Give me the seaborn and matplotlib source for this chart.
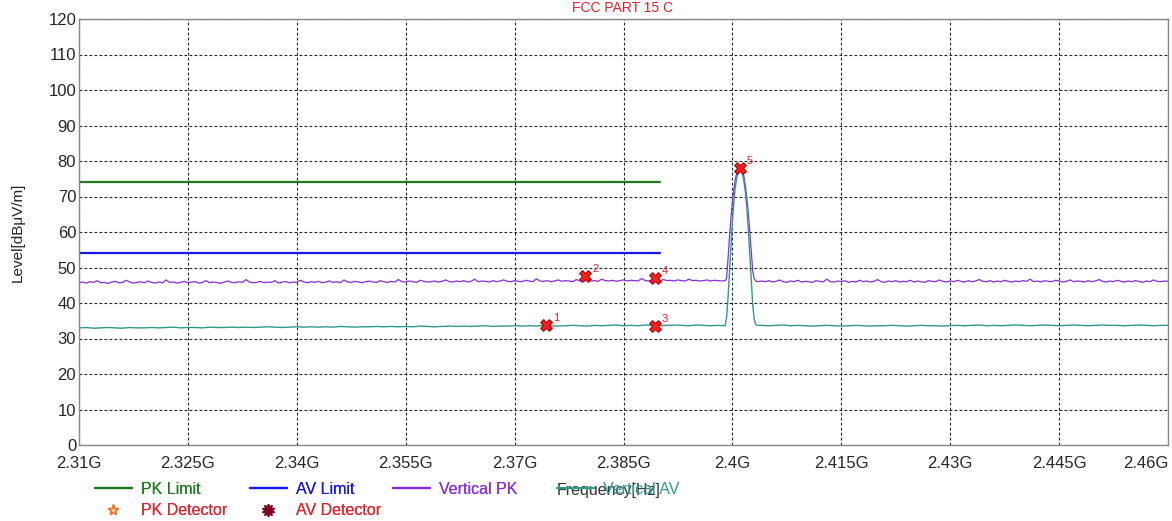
import numpy as np
import pandas as pd
import matplotlib
matplotlib.use("Agg")
import matplotlib.pyplot as plt
from matplotlib.lines import Line2D
import seaborn as sns

# ---------------- data ----------------
x_ticks = [2.31, 2.325, 2.34, 2.355, 2.37, 2.385, 2.40, 2.415, 2.43, 2.445, 2.46]
x_tick_labels = ["2.31G", "2.325G", "2.34G", "2.355G", "2.37G", "2.385G", "2.4G",
                 "2.415G", "2.43G", "2.445G", "2.46G"]
y_ticks = [0, 10, 20, 30, 40, 50, 60, 70, 80, 90, 100, 110, 120]

pk_limit_freq = [2.31, 2.39]
pk_limit_level = [74, 74]
av_limit_freq = [2.31, 2.39]
av_limit_level = [54, 54]

# frequency grids (GHz)
freq_pk_left = np.round(np.arange(2.310, 2.39925, 0.0005), 4)   # 179 points
freq_pk_right = np.round(np.arange(2.404, 2.46025, 0.0005), 4)  # 113 points
freq_av_left = np.round(np.arange(2.310, 2.3995, 0.001), 4)     # 90 points
freq_av_right = np.round(np.arange(2.404, 2.4605, 0.001), 4)    # 57 points
freq_peak = np.round(np.arange(2.3992, 2.40345, 0.0002), 4)     # 22 points

pk_left = [45.7, 45.9, 45.6, 46.0, 45.8, 46.3, 45.7, 45.8, 45.5, 45.9,
           46.1, 45.7, 45.8, 46.4, 45.9, 45.6, 45.8, 46.0, 45.7, 46.2,
           45.8, 45.6, 45.9, 45.7, 46.5, 45.8, 45.9, 45.6, 45.8, 46.1,
           45.7, 45.9, 46.0, 45.6, 45.8, 46.3, 45.7, 45.9, 45.8, 45.5,
           45.9, 46.2, 45.8, 45.7, 46.0, 45.8, 46.6, 45.9, 45.7, 45.8,
           46.1, 45.7, 45.9, 45.8, 46.3, 45.6, 45.9, 46.0, 45.7, 45.9,
           45.8, 46.4, 45.9, 45.7, 46.0, 45.8, 46.1, 45.7, 45.9, 46.2,
           45.8, 46.0, 45.7, 46.5, 45.9, 45.8, 46.1, 45.9, 45.7, 46.0,
           46.2, 45.9, 45.8, 46.3, 46.0, 45.8, 46.1, 45.9, 46.6, 46.0,
           45.9, 46.2, 46.0, 45.8, 46.4, 46.1, 45.9, 46.0, 46.2, 45.9,
           46.1, 46.5, 46.0, 45.9, 46.2, 46.0, 46.3, 45.9, 46.1, 46.7,
           46.0, 46.2, 46.1, 45.9, 46.3, 46.0, 46.2, 46.5, 46.1, 46.0,
           46.3, 46.1, 46.0, 46.4, 46.2, 46.0, 46.8, 46.2, 46.1, 46.3,
           46.0, 46.2, 46.5, 46.1, 46.3, 46.2, 46.0, 46.6, 46.2, 46.1,
           46.4, 46.2, 46.3, 46.1, 46.7, 46.3, 46.2, 46.4, 46.1, 46.3,
           46.5, 46.2, 46.4, 46.3, 46.2, 46.9, 46.3, 46.2, 46.5, 46.3,
           46.2, 46.6, 46.3, 46.4, 46.2, 46.5, 46.3, 46.2, 46.7, 46.3,
           46.4, 46.2, 46.3, 46.5, 46.2, 46.4, 46.3, 46.2, 46.3]
pk_peak = [47.0, 52.5, 58.5, 64.0, 68.5, 72.0, 74.8, 76.7, 77.8, 78.3, 78.1,
           77.2, 75.5, 72.8, 69.3, 65.0, 60.0, 54.5, 49.0, 46.8, 46.3, 46.0]
pk_right = [46.2, 46.0, 46.3, 45.9, 46.1, 46.5, 46.0, 45.8, 46.2, 46.0,
            46.4, 45.9, 46.1, 46.0, 45.8, 46.3, 46.1, 45.9, 46.7, 46.0,
            45.9, 46.2, 46.0, 46.3, 45.8, 46.1, 45.9, 46.4, 46.0, 46.2,
            45.9, 46.1, 46.6, 46.0, 45.8, 46.2, 46.0, 46.3, 45.9, 46.1,
            46.0, 46.4, 45.9, 46.2, 46.0, 45.8, 46.3, 46.1, 46.0, 46.5,
            46.1, 45.9, 46.2, 46.0, 46.4, 46.1, 45.9, 46.3, 46.0, 46.2,
            46.6, 46.1, 46.0, 46.3, 45.9, 46.2, 46.0, 46.4, 46.1, 45.9,
            46.2, 46.0, 46.3, 46.1, 46.7, 46.0, 46.2, 45.9, 46.3, 46.1,
            46.0, 46.4, 46.2, 45.9, 46.1, 46.5, 46.0, 46.2, 46.1, 45.9,
            46.3, 46.0, 46.2, 46.6, 46.1, 45.9, 46.2, 46.0, 46.4, 46.1,
            45.9, 46.2, 46.0, 46.3, 46.1, 45.8, 46.2, 46.0, 46.5, 46.1,
            46.0, 46.2, 46.1]

av_left = [33.0, 33.1, 32.9, 33.0, 33.1, 33.0, 32.9, 33.1, 33.0, 33.0,
           33.1, 33.0, 33.1, 33.2, 33.0, 33.1, 33.1, 33.0, 33.2, 33.1,
           33.1, 33.2, 33.1, 33.2, 33.1, 33.2, 33.3, 33.2, 33.1, 33.2,
           33.3, 33.2, 33.3, 33.2, 33.3, 33.2, 33.4, 33.3, 33.2, 33.3,
           33.3, 33.4, 33.3, 33.4, 33.3, 33.4, 33.3, 33.5, 33.4, 33.3,
           33.4, 33.5, 33.4, 33.5, 33.4, 33.5, 33.6, 33.4, 33.5, 33.5,
           33.6, 33.5, 33.6, 33.5, 33.7, 33.6, 33.5, 33.6, 33.7, 33.6,
           33.5, 33.7, 33.6, 33.7, 33.8, 33.6, 33.7, 33.6, 33.8, 33.7,
           33.6, 33.7, 33.8, 33.7, 33.6, 33.8, 33.7, 33.6, 33.7, 33.6]
av_peak = [36.0, 41.5, 48.5, 56.0, 63.0, 68.5, 72.5, 75.3, 76.8, 77.4, 77.2,
           76.2, 74.2, 71.0, 66.5, 60.5, 53.5, 46.0, 39.5, 35.5, 34.0, 33.7]
av_right = [33.7, 33.6, 33.7, 33.8, 33.6, 33.7, 33.6, 33.5, 33.6, 33.7,
            33.6, 33.5, 33.6, 33.7, 33.6, 33.5, 33.6, 33.6, 33.7, 33.6,
            33.5, 33.6, 33.7, 33.6, 33.6, 33.5, 33.6, 33.7, 33.6, 33.7,
            33.8, 33.6, 33.7, 33.6, 33.7, 33.8, 33.7, 33.6, 33.7, 33.8,
            33.7, 33.6, 33.7, 33.8, 33.7, 33.6, 33.7, 33.8, 33.7, 33.7,
            33.6, 33.7, 33.8, 33.7, 33.6, 33.7, 33.7]

marker_ids = ["1", "2", "3", "4", "5"]
marker_freq = [2.3743, 2.3797, 2.3893, 2.3893, 2.4010]
marker_level = [33.8, 47.6, 33.5, 47.0, 78.0]

# ---------------- style ----------------
sns.set_style("white")
plt.rcParams["font.family"] = ["Liberation Sans", "DejaVu Sans"]

C_PKLIM = "#1f7a1f"
C_AVLIM = "#1515f0"
C_PK = "#8a2be2"
C_AV = "#2f9a8c"
C_RED = "#e8202a"

fig = plt.figure(figsize=(11.72, 5.21), dpi=100)
ax = fig.add_axes([79 / 1172, 1 - 445 / 521, (1168 - 79) / 1172, (445 - 19) / 521])

pk_df = pd.DataFrame({
    "freq": np.concatenate([freq_pk_left, freq_peak, freq_pk_right]),
    "level": pk_left + pk_peak + pk_right,
})
av_df = pd.DataFrame({
    "freq": np.concatenate([freq_av_left, freq_peak, freq_av_right]),
    "level": av_left + av_peak + av_right,
})

sns.lineplot(x=pk_limit_freq, y=pk_limit_level, ax=ax, color=C_PKLIM, linewidth=1.6)
sns.lineplot(x=av_limit_freq, y=av_limit_level, ax=ax, color=C_AVLIM, linewidth=1.6)
sns.lineplot(data=pk_df, x="freq", y="level", ax=ax, color=C_PK, linewidth=0.9,
             sort=False, estimator=None)
sns.lineplot(data=av_df, x="freq", y="level", ax=ax, color=C_AV, linewidth=1.0,
             sort=False, estimator=None)

mk = pd.DataFrame({"f": marker_freq, "l": marker_level})
sns.scatterplot(data=mk, x="f", y="l", ax=ax, marker="X", s=70, color="#ff2020",
                edgecolor="#b00000", linewidth=0.8, zorder=5)
for lab, f, l in zip(marker_ids, marker_freq, marker_level):
    ax.annotate(lab, (f, l), xytext=(5, 3), textcoords="offset points",
                color=C_RED, fontsize=8)

ax.set_xlim(2.31, 2.46)
ax.set_ylim(0, 120)
ax.set_xticks(x_ticks)
ax.set_xticklabels(x_tick_labels, fontsize=12)
ax.get_xticklabels()[-1].set_horizontalalignment("right")
ax.set_yticks(y_ticks)
ax.set_yticklabels([str(v) for v in y_ticks], fontsize=12)
ax.tick_params(axis="both", direction="in", length=4, color="#555555")
ax.tick_params(axis="x", pad=8)
ax.tick_params(axis="y", pad=2)
ax.set_xlabel("")
ax.set_ylabel("")
ax.grid(True, color="#222222", linestyle=(0, (2.5, 2)), linewidth=0.8)
for sp in ax.spines.values():
    sp.set_color("#888888")
    sp.set_linewidth(1.0)

fig.text(623 / 1172, 1 - 8 / 521, "FCC PART 15 C", color=C_RED, fontsize=10,
         ha="center", va="center")
fig.text(18 / 1172, 1 - 232 / 521, "Level[dBμV/m]", rotation=90, fontsize=11,
         ha="center", va="center", color="#222222")

# legend, one column at a time
def col_legend(handles, labels, colors, x0):
    leg = fig.legend(handles, labels, loc="upper left",
                     bbox_to_anchor=(x0 / 1172, 1 - 482 / 521),
                     frameon=False, fontsize=11.5, handlelength=2.3,
                     handletextpad=0.6, labelspacing=0.4, borderpad=0,
                     borderaxespad=0)
    for t, c in zip(leg.get_texts(), colors):
        t.set_color(c)
    return leg

h_pklim = Line2D([], [], color=C_PKLIM, linewidth=1.6)
h_avlim = Line2D([], [], color=C_AVLIM, linewidth=1.6)
h_pk = Line2D([], [], color=C_PK, linewidth=1.6)
h_av = Line2D([], [], color=C_AV, linewidth=1.6)
h_pkdet = Line2D([], [], linestyle="none", marker="*", markersize=8,
                 markerfacecolor="#ffd0a0", markeredgecolor="#f07020")
h_avdet = Line2D([], [], linestyle="none", marker=(10, 1, 0), markersize=9,
                 color="#800020")

legs = [
    col_legend([h_pklim, h_pkdet], ["PK Limit", "PK Detector"], [C_PKLIM, C_RED], 95),
    col_legend([h_avlim, h_avdet], ["AV Limit", "AV Detector"], [C_AVLIM, C_RED], 250),
    col_legend([h_pk], ["Vertical PK"], [C_PK], 393),
    col_legend([h_av], ["Vertical AV"], [C_AV], 557),
]
for lg in legs[:-1]:
    fig.add_artist(lg)

fig.text(557 / 1172, 1 - 490 / 521, "Frequency[Hz]", fontsize=11.5,
         ha="left", va="center", color="#333333")

fig.savefig("out.png", dpi=100, facecolor="white")
